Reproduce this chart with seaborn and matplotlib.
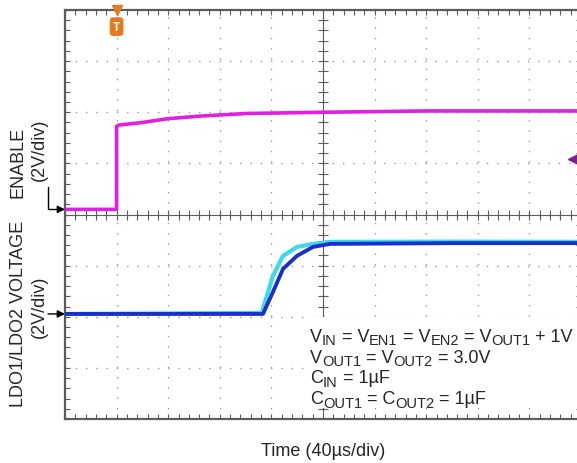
import numpy as np
import pandas as pd
import matplotlib
matplotlib.use("Agg")
import matplotlib.pyplot as plt
from matplotlib.patches import Rectangle
from matplotlib.ticker import MultipleLocator
import seaborn as sns

# ------------------------------------------------------------
# Scope capture: 40us/div, 2V/div, 10 x 8 divisions
# ------------------------------------------------------------
enable_t = [0, 40, 40, 42, 60, 80, 105, 140, 200, 280, 400]
enable_v = [8.2, 8.2, 11.45, 11.5, 11.6, 11.75, 11.85, 11.95, 12.0, 12.05, 12.05]

ldo1_t = [0, 152.5, 161.2, 169.0, 179.8, 192.2, 205.4, 300, 400]
ldo1_v = [4.11, 4.15, 5.60, 6.38, 6.73, 6.85, 6.93, 6.94, 6.93]

ldo2_t = [0, 153.5, 161.2, 169.0, 179.8, 192.2, 205.4, 300, 400]
ldo2_v = [4.11, 4.11, 4.97, 5.87, 6.38, 6.73, 6.85, 6.88, 6.88]

enable_gnd = 8.2
ldo_gnd = 4.11
trig_t = 40
trig_level = 10.18

# test conditions: (text, is_subscript)
notes = [
    [("V", 0), ("IN", 1), (" = V", 0), ("EN1", 1), (" = V", 0), ("EN2", 1),
     (" = V", 0), ("OUT1", 1), (" + 1V", 0)],
    [("V", 0), ("OUT1", 1), (" = V", 0), ("OUT2", 1), (" = 3.0V", 0)],
    [("C", 0), ("IN", 1), (" = 1µF", 0)],
    [("C", 0), ("OUT1", 1), (" = C", 0), ("OUT2", 1), (" = 1µF", 0)],
]

W, H = 577, 464

sns.set_style("white")
plt.rcParams["font.family"] = ["Liberation Sans", "DejaVu Sans"]

fig = plt.figure(figsize=(W / 100, H / 100), dpi=100)
ax = fig.add_axes([65 / W, 1 - 420 / H, (581 - 65) / W, (420 - 11) / H])

FRAME = "#5c5c5c"
GRID = "#9a9a9a"

ax.set_xlim(0, 400)
ax.set_ylim(0, 16)
ax.xaxis.set_major_locator(MultipleLocator(40))
ax.yaxis.set_major_locator(MultipleLocator(2))
ax.xaxis.set_minor_locator(MultipleLocator(8))
ax.yaxis.set_minor_locator(MultipleLocator(0.4))
ax.tick_params(which="both", direction="in", length=3.5, width=0.8, color=FRAME,
               top=True, bottom=True, left=True, right=True,
               labelbottom=False, labelleft=False)
ax.grid(True, which="major", color=GRID, linestyle=(0, (1, 6.4)), linewidth=1.0)
for sp in ax.spines.values():
    sp.set_color(FRAME)
    sp.set_linewidth(1.6)

# centre graticule with tick crosses
ax.axvline(200, color=FRAME, lw=0.8, zorder=1)
ax.axhline(8, color=FRAME, lw=0.8, zorder=1)
ax.plot(np.full(40, 200), np.arange(0, 16, 0.4), ls="none", marker="_",
        ms=7, mew=0.8, color=FRAME, zorder=1)
ax.plot(np.arange(0, 400, 8), np.full(50, 8), ls="none", marker="|",
        ms=7, mew=0.8, color=FRAME, zorder=1)

# traces
df_en = pd.DataFrame({"t": enable_t, "v": enable_v})
df_l1 = pd.DataFrame({"t": ldo1_t, "v": ldo1_v})
df_l2 = pd.DataFrame({"t": ldo2_t, "v": ldo2_v})
sns.lineplot(data=df_en, x="t", y="v", ax=ax, sort=False, estimator=None,
             color="#e11fe0", lw=2.6, zorder=3)
sns.lineplot(data=df_l1, x="t", y="v", ax=ax, sort=False, estimator=None,
             color="#3cd8ee", lw=3.0, zorder=3)
sns.lineplot(data=df_l2, x="t", y="v", ax=ax, sort=False, estimator=None,
             color="#1c30c8", lw=2.8, zorder=4)
ax.set_xlabel("")
ax.set_ylabel("")

# trigger marker (top) and trigger level (right)
ax.plot([trig_t], [16], marker="v", ms=7, color="#e8781e", clip_on=False, zorder=6)
ax.text(trig_t, 15.35, "T", ha="center", va="center", fontsize=8.5, fontweight="bold",
        color="white", zorder=6,
        bbox=dict(boxstyle="round,pad=0.22", fc="#e8781e", ec="#e8781e"))
ax.plot([393.8], [trig_level], marker="<", ms=7, color="#7d1f8c", zorder=6)

# ground reference arrows
arrow = dict(arrowstyle="-|>", connectionstyle="angle,angleA=90,angleB=0",
             color="black", lw=1.0, shrinkA=0, shrinkB=0, mutation_scale=11)
ax.annotate("", xy=(0, enable_gnd), xycoords=("axes fraction", "data"),
            xytext=(-17, 22), textcoords="offset pixels", arrowprops=arrow,
            annotation_clip=False)
ax.annotate("", xy=(0, ldo_gnd), xycoords=("axes fraction", "data"),
            xytext=(-17, 0), textcoords="offset pixels",
            arrowprops=dict(arrowstyle="-|>", color="black", lw=1.0,
                            shrinkA=0, shrinkB=0, mutation_scale=11),
            annotation_clip=False)

# channel labels
fs = 13
fig.text(18.5 / W, 1 - 162 / H, "ENABLE", rotation=90, ha="center", va="center", fontsize=fs)
fig.text(39 / W, 1 - 150 / H, "(2V/div)", rotation=90, ha="center", va="center", fontsize=fs)
fig.text(18.5 / W, 1 - 314 / H, "LDO1/LDO2 VOLTAGE", rotation=90, ha="center", va="center", fontsize=fs)
fig.text(39 / W, 1 - 307 / H, "(2V/div)", rotation=90, ha="center", va="center", fontsize=fs)
fig.text(323 / W, 1 - 452 / H, "Time (40µs/div)", ha="center", va="center", fontsize=fs)

# white box behind the test conditions
fig.patches.append(Rectangle((307 / W, 1 - 409 / H), (W - 307) / W, (409 - 318) / H,
                             transform=fig.transFigure, fc="white", ec="none", zorder=5))

# test conditions, drawn piece by piece for the subscripts
renderer = fig.canvas.get_renderer()
note_fs, sub_fs, sub_drop = 13, 10.5, 3.5
for i, line in enumerate(notes):
    x = 310.0
    base = 342 + 20.7 * i
    for txt, sub in line:
        y = base + (sub_drop if sub else 0)
        t = fig.text(x / W, 1 - y / H, txt, ha="left", va="baseline",
                     fontsize=sub_fs if sub else note_fs, zorder=7)
        x += t.get_window_extent(renderer).width

fig.savefig("out.png", dpi=100, facecolor="white")
